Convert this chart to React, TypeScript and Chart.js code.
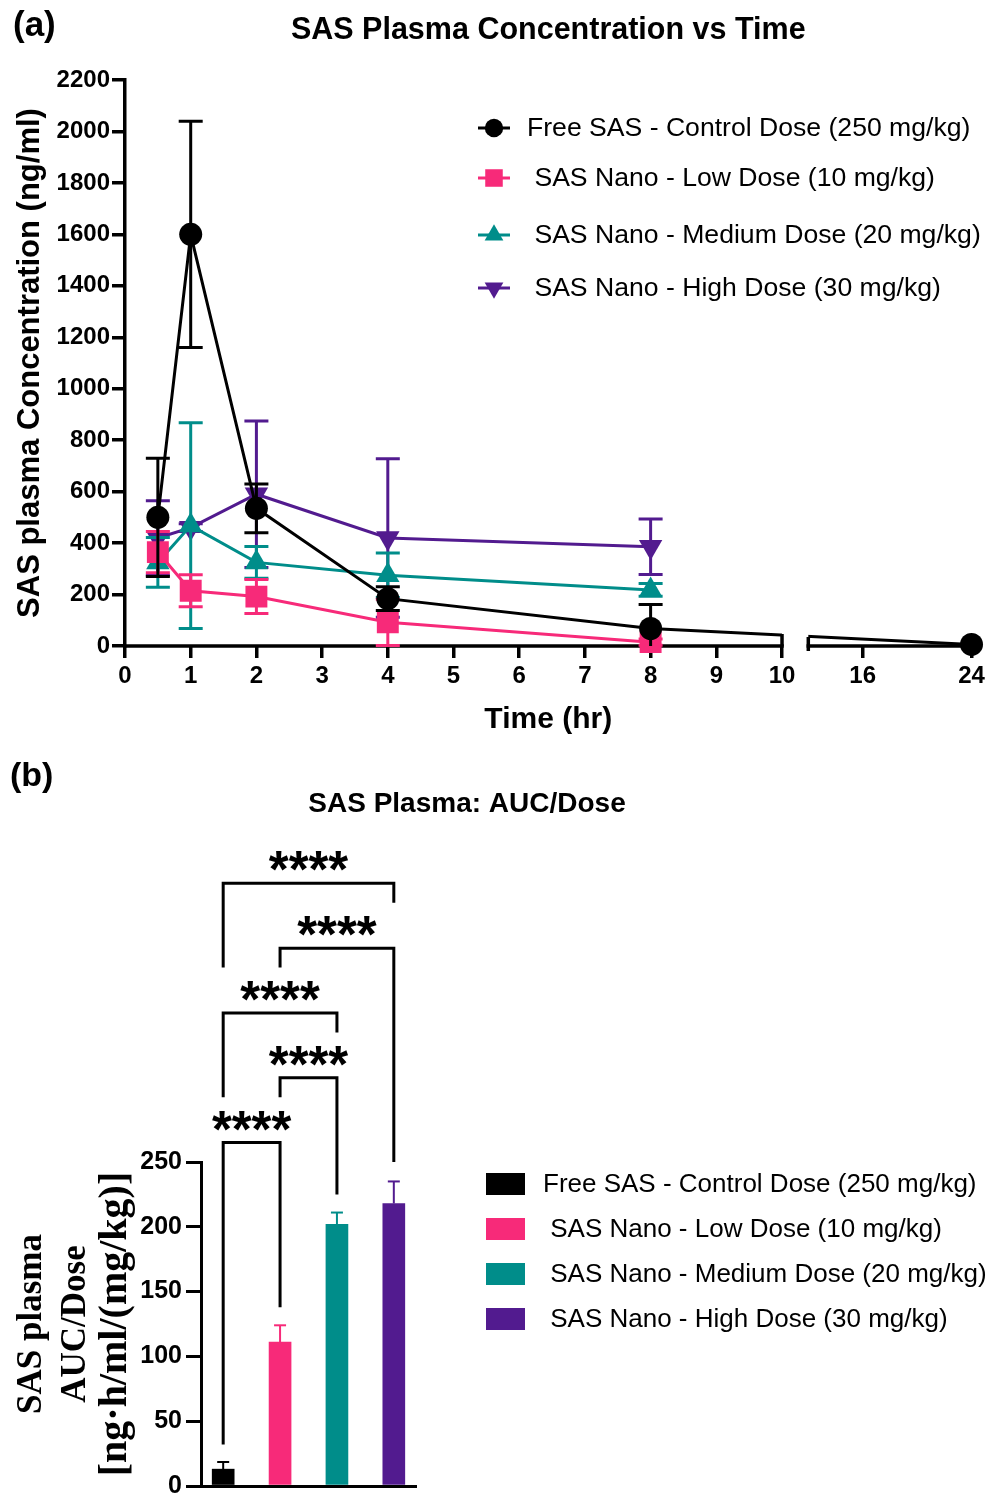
import React, { useEffect, useRef } from "react";
import { Chart, registerables } from "chart.js";

Chart.register(...registerables);

const SANS = "'Liberation Sans', Arial, Helvetica, sans-serif";
const SERIF = "'Liberation Serif', 'Times New Roman', Times, serif";
const INK = "#000000";

// ---------- shared series ----------
const seriesLabels = [
  "Free SAS - Control Dose (250 mg/kg)",
  " SAS Nano - Low Dose (10 mg/kg)",
  " SAS Nano - Medium Dose (20 mg/kg)",
  " SAS Nano - High Dose (30 mg/kg)",
];
const seriesColors = ["#000000", "#F72A79", "#008D8A", "#521B8F"];
const seriesPointStyles = ["circle", "rect", "triangle", "triangle"];
const seriesPointRotation = [0, 0, 0, 180];
const seriesPointRadius = [11.5, 15.5, 13.5, 13.5];

// ---------- panel (a): plasma concentration vs time ----------
const timePoints = [0.5, 1, 2, 4, 8, 24];
const controlMean = [500, 1600, 535, 184, 68, 6];
const controlErr = [230, 440, 95, 46, 93, 0];
const lowMean = [365, 215, 192, 92, 15, null];
const lowErr = [80, 62, 66, 90, 12, null];
const mediumMean = [325, 468, 325, 275, 218, null];
const mediumErr = [97, 400, 62, 86, 25, null];
const highMean = [420, 460, 590, 420, 386, null];
const highErr = [145, 15, 285, 308, 108, null];
const timeTicks = [0, 1, 2, 3, 4, 5, 6, 7, 8, 9, 10, 16, 24];
const concMax = 2200;
const concStep = 200;

// broken time axis: 0–10 linear, then 12–24 compressed
const breakFrom = 10;
const breakTo = 12;
const breakGap = 0.4;
const afterBreakScale = 0.207;
function toAxis(t: number) {
  return t <= breakFrom ? t : breakFrom + breakGap + (t - breakTo) * afterBreakScale;
}

// ---------- panel (b): AUC/Dose ----------
const aucMean = [13, 111, 202, 218];
const aucErr = [5.5, 13, 9, 17];
const aucMax = 250;
const aucStep = 50;
const aucTitleLines = ["SAS plasma", "AUC/Dose", "[ng·h/ml/(mg/kg)]"];
const comparisons = [
  [0, 1],
  [1, 2],
  [0, 2],
  [1, 3],
  [0, 3],
];
const bracketLevel = [265, 315, 365, 415, 465];
const bracketLeftEnd = [32, 300, 300, 400, 400];
const bracketRightEnd = [138, 225, 350, 250, 450];
const bracketLabels = ["****", "****", "****", "****", "****"];

const B_TOP = 745;
const B_H = 760;

function drawMarker(ctx: CanvasRenderingContext2D, style: string, x: number, y: number, r: number, rot: number, color: string) {
  ctx.save();
  ctx.fillStyle = color;
  ctx.beginPath();
  if (style === "circle") {
    ctx.arc(x, y, r, 0, Math.PI * 2);
  } else if (style === "rect") {
    const s = r * Math.SQRT1_2;
    ctx.rect(x - s, y - s, 2 * s, 2 * s);
  } else {
    let rad = (rot * Math.PI) / 180;
    ctx.moveTo(x + Math.sin(rad) * r, y - Math.cos(rad) * r);
    rad += (2 * Math.PI) / 3;
    ctx.lineTo(x + Math.sin(rad) * r, y - Math.cos(rad) * r);
    rad += (2 * Math.PI) / 3;
    ctx.lineTo(x + Math.sin(rad) * r, y - Math.cos(rad) * r);
    ctx.closePath();
  }
  ctx.fill();
  ctx.restore();
}

function lineSeg(ctx: CanvasRenderingContext2D, x1: number, y1: number, x2: number, y2: number) {
  ctx.beginPath();
  ctx.moveTo(x1, y1);
  ctx.lineTo(x2, y2);
  ctx.stroke();
}

function makeConfigA(): any {
  const means = [controlMean, lowMean, mediumMean, highMean];
  const errs = [controlErr, lowErr, mediumErr, highErr];
  const datasets = means.map((m, s) => ({
    label: seriesLabels[s],
    data: timePoints
      .map((t, i) => ({ x: toAxis(t), y: m[i], err: errs[s][i] }))
      .filter((p) => p.y !== null && p.y !== undefined),
    borderColor: seriesColors[s],
    backgroundColor: seriesColors[s],
    borderWidth: 3,
    pointStyle: seriesPointStyles[s],
    pointRotation: seriesPointRotation[s],
    pointRadius: seriesPointRadius[s],
    pointBorderWidth: 0,
    pointBackgroundColor: seriesColors[s],
    tension: 0,
    clip: false,
  }));

  const errorAndBreakPlugin = {
    id: "errorAndBreak",
    beforeDatasetDraw(chart: any, args: any) {
      const { ctx, scales } = chart;
      const xs = scales.x;
      const ys = scales.y;
      const pb0 = xs.getPixelForValue(toAxis(breakFrom));
      const pb1 = xs.getPixelForValue(toAxis(breakTo));
      ctx.save();
      ctx.beginPath();
      ctx.rect(0, 0, pb0, chart.height);
      ctx.rect(pb1, 0, chart.width - pb1, chart.height);
      ctx.clip();
      const ds = chart.data.datasets[args.index];
      ctx.strokeStyle = ds.borderColor;
      ctx.lineWidth = 3;
      const cap = 12;
      args.meta.data.forEach((el: any, i: number) => {
        const raw = ds.data[i];
        if (!raw || !raw.err) return;
        const hi = raw.y + raw.err;
        const loRaw = raw.y - raw.err;
        const lo = Math.max(loRaw, ys.min);
        const yh = ys.getPixelForValue(hi);
        const yl = ys.getPixelForValue(lo);
        lineSeg(ctx, el.x, yh, el.x, yl);
        lineSeg(ctx, el.x - cap, yh, el.x + cap, yh);
        if (loRaw >= ys.min) lineSeg(ctx, el.x - cap, yl, el.x + cap, yl);
      });
    },
    afterDatasetDraw(chart: any) {
      chart.ctx.restore();
    },
    beforeDatasetsDraw(chart: any) {
      const { ctx, chartArea, scales } = chart;
      const xs = scales.x;
      const yb = chartArea.bottom;
      const p0 = xs.getPixelForValue(toAxis(0));
      const p10 = xs.getPixelForValue(toAxis(breakFrom));
      const p12 = xs.getPixelForValue(toAxis(breakTo));
      const p24 = xs.getPixelForValue(toAxis(24));
      ctx.save();
      ctx.strokeStyle = INK;
      ctx.lineWidth = 3.5;
      lineSeg(ctx, p0 - 1.75, yb, p10 + 1.75, yb);
      lineSeg(ctx, p12 - 1.75, yb, p24 + 1.75, yb);
      lineSeg(ctx, p10, yb - 12, p10, yb);
      lineSeg(ctx, p12, yb - 9, p12, yb + 5);
      ctx.restore();
    },
    afterDraw(chart: any) {
      const { ctx } = chart;
      ctx.save();
      ctx.fillStyle = INK;
      ctx.font = `bold 35px ${SANS}`;
      ctx.textAlign = "left";
      ctx.textBaseline = "middle";
      ctx.fillText("(a)", 13, 26);
      const rows = [128, 178, 235, 288];
      chart.data.datasets.forEach((ds: any, i: number) => {
        const y = rows[i];
        ctx.strokeStyle = ds.borderColor;
        ctx.lineWidth = 3;
        lineSeg(ctx, 478, y, 510, y);
        drawMarker(ctx, ds.pointStyle, 494, y, ds.pointRadius * 0.8, ds.pointRotation, ds.borderColor);
        ctx.fillStyle = INK;
        ctx.font = `26.6px ${SANS}`;
        ctx.textBaseline = "middle";
        ctx.fillText(ds.label, 527, y + 1);
      });
      ctx.restore();
    },
  };

  return {
    type: "line",
    data: { datasets },
    plugins: [errorAndBreakPlugin],
    options: {
      responsive: false,
      animation: false,
      devicePixelRatio: 1,
      layout: { padding: { left: 0, right: 21.5, top: 0, bottom: 0 } },
      plugins: {
        legend: { display: false },
        tooltip: { enabled: false },
        title: {
          display: true,
          text: "SAS Plasma Concentration vs Time",
          fullSize: false,
          color: INK,
          font: { family: SANS, size: 30.5, weight: "bold" },
          padding: { top: 12, bottom: 31.4 },
        },
      },
      scales: {
        x: {
          type: "linear",
          min: 0,
          max: toAxis(24),
          offset: false,
          afterBuildTicks: (s: any) => {
            s.ticks = timeTicks.map((t) => ({ value: toAxis(t) }));
          },
          afterFit: (s: any) => {
            s.height = 104;
          },
          ticks: {
            autoSkip: false,
            maxRotation: 0,
            callback: (_v: any, i: number) => String(timeTicks[i]),
            color: INK,
            font: { family: SANS, size: 24, weight: "bold" },
            padding: 4,
          },
          grid: {
            display: true,
            drawOnChartArea: false,
            drawTicks: true,
            tickLength: 12,
            lineWidth: 3.5,
            color: INK,
          },
          border: { display: false },
          title: {
            display: true,
            text: "Time (hr)",
            color: INK,
            font: { family: SANS, size: 30, weight: "bold" },
            padding: { top: 0, bottom: 12 },
          },
        },
        y: {
          type: "linear",
          min: 0,
          max: concMax,
          afterFit: (s: any) => {
            s.width = 125;
          },
          ticks: {
            stepSize: concStep,
            callback: (v: any) => String(v),
            color: INK,
            font: { family: SANS, size: 24, weight: "bold" },
            padding: 2,
          },
          grid: {
            display: true,
            drawOnChartArea: false,
            drawTicks: true,
            tickLength: 13,
            lineWidth: 3.5,
            color: INK,
          },
          border: { display: true, width: 3.5, color: INK },
          title: {
            display: true,
            text: "SAS plasma Concentration (ng/ml)",
            color: INK,
            font: { family: SANS, size: 31, weight: "bold" },
            padding: { top: 11.4, bottom: 0 },
          },
        },
      },
    },
  };
}

function makeConfigB(): any {
  const datasets = aucMean.map((v, i) => ({
    label: seriesLabels[i],
    data: [{ x: i, y: v }],
    backgroundColor: seriesColors[i],
    borderWidth: 0,
    barThickness: 22,
    grouped: false,
  }));

  const annotationsPlugin = {
    id: "aucAnnotations",
    afterDatasetsDraw(chart: any) {
      const { ctx, scales } = chart;
      const xs = scales.x;
      const ys = scales.y;
      ctx.save();
      chart.data.datasets.forEach((ds: any, i: number) => {
        const el = chart.getDatasetMeta(i).data[0];
        if (!el) return;
        const yh = ys.getPixelForValue(aucMean[i] + aucErr[i]);
        ctx.strokeStyle = ds.backgroundColor;
        ctx.lineWidth = 2;
        lineSeg(ctx, el.x, el.y, el.x, yh);
        lineSeg(ctx, el.x - 6, yh, el.x + 6, yh);
      });
      ctx.strokeStyle = INK;
      ctx.lineWidth = 3;
      ctx.lineJoin = "miter";
      ctx.font = `bold 51px ${SANS}`;
      ctx.textAlign = "center";
      ctx.textBaseline = "alphabetic";
      comparisons.forEach(([a, b], k) => {
        const xl = xs.getPixelForValue(a);
        const xr = xs.getPixelForValue(b);
        const yt = ys.getPixelForValue(bracketLevel[k]);
        ctx.beginPath();
        ctx.moveTo(xl, ys.getPixelForValue(bracketLeftEnd[k]));
        ctx.lineTo(xl, yt);
        ctx.lineTo(xr, yt);
        ctx.lineTo(xr, ys.getPixelForValue(bracketRightEnd[k]));
        ctx.stroke();
        const m = ctx.measureText(bracketLabels[k]);
        const mid = (m.actualBoundingBoxAscent - m.actualBoundingBoxDescent) / 2;
        ctx.fillStyle = INK;
        ctx.fillText(bracketLabels[k], (xl + xr) / 2, yt - 22 + mid);
      });
      ctx.restore();
    },
    afterDraw(chart: any) {
      const { ctx, chartArea } = chart;
      ctx.save();
      ctx.fillStyle = INK;
      ctx.textBaseline = "middle";
      ctx.textAlign = "left";
      ctx.font = `bold 34px ${SANS}`;
      ctx.fillText("(b)", 10, 32);
      ctx.textAlign = "center";
      ctx.font = `bold 28px ${SANS}`;
      ctx.fillText("SAS Plasma: AUC/Dose", 467, 59);
      // rotated multi-line y-axis title
      const cy = (chartArea.top + chartArea.bottom) / 2;
      const lineX = [32, 76, 116];
      const lineSize = [35, 35, 40];
      aucTitleLines.forEach((txt, i) => {
        ctx.save();
        ctx.translate(lineX[i], cy);
        ctx.rotate(-Math.PI / 2);
        ctx.font = `bold ${lineSize[i]}px ${SERIF}`;
        ctx.textAlign = "center";
        ctx.textBaseline = "middle";
        ctx.fillText(txt, 0, 0);
        ctx.restore();
      });
      // legend
      ctx.textAlign = "left";
      const rows = [439, 484, 529, 574];
      chart.data.datasets.forEach((ds: any, i: number) => {
        const y = rows[i];
        ctx.fillStyle = ds.backgroundColor;
        ctx.fillRect(486, y - 11, 39, 22);
        ctx.fillStyle = INK;
        ctx.font = `26px ${SANS}`;
        ctx.fillText(ds.label, 543, y + 1);
      });
      ctx.restore();
    },
  };

  return {
    type: "bar",
    data: { datasets },
    plugins: [annotationsPlugin],
    options: {
      responsive: false,
      animation: false,
      devicePixelRatio: 1,
      layout: { padding: { left: 0, right: 577, top: 417, bottom: 0 } },
      plugins: {
        legend: { display: false },
        tooltip: { enabled: false },
        title: { display: false },
      },
      scales: {
        x: {
          type: "linear",
          min: -0.39,
          max: 3.39,
          offset: false,
          afterFit: (s: any) => {
            s.height = 19;
          },
          ticks: { display: false },
          grid: { display: false, offset: false },
          border: { display: true, width: 3, color: INK },
        },
        y: {
          type: "linear",
          min: 0,
          max: aucMax,
          afterFit: (s: any) => {
            s.width = 201;
          },
          ticks: {
            stepSize: aucStep,
            color: INK,
            font: { family: SANS, size: 25, weight: "bold" },
            padding: 4,
          },
          grid: {
            display: true,
            drawOnChartArea: false,
            drawTicks: true,
            tickLength: 15,
            lineWidth: 3,
            color: INK,
          },
          border: { display: true, width: 3, color: INK },
          title: { display: false },
        },
      },
    },
  };
}

function ChartCanvas({ makeConfig, top, height }: { makeConfig: () => any; top: number; height: number }) {
  const ref = useRef<HTMLCanvasElement | null>(null);
  useEffect(() => {
    if (!ref.current) return;
    const chart = new Chart(ref.current, makeConfig());
    return () => chart.destroy();
  }, [makeConfig]);
  return (
    <canvas
      ref={ref}
      width={993}
      height={height}
      style={{ position: "absolute", left: 0, top, width: 993, height, display: "block" }}
    />
  );
}

export default function App() {
  return (
    <div style={{ position: "absolute", left: 0, top: 0, width: 993, height: 1500, background: "#ffffff", overflow: "hidden" }}>
      <ChartCanvas makeConfig={makeConfigA} top={0} height={750} />
      <ChartCanvas makeConfig={makeConfigB} top={B_TOP} height={B_H} />
    </div>
  );
}
